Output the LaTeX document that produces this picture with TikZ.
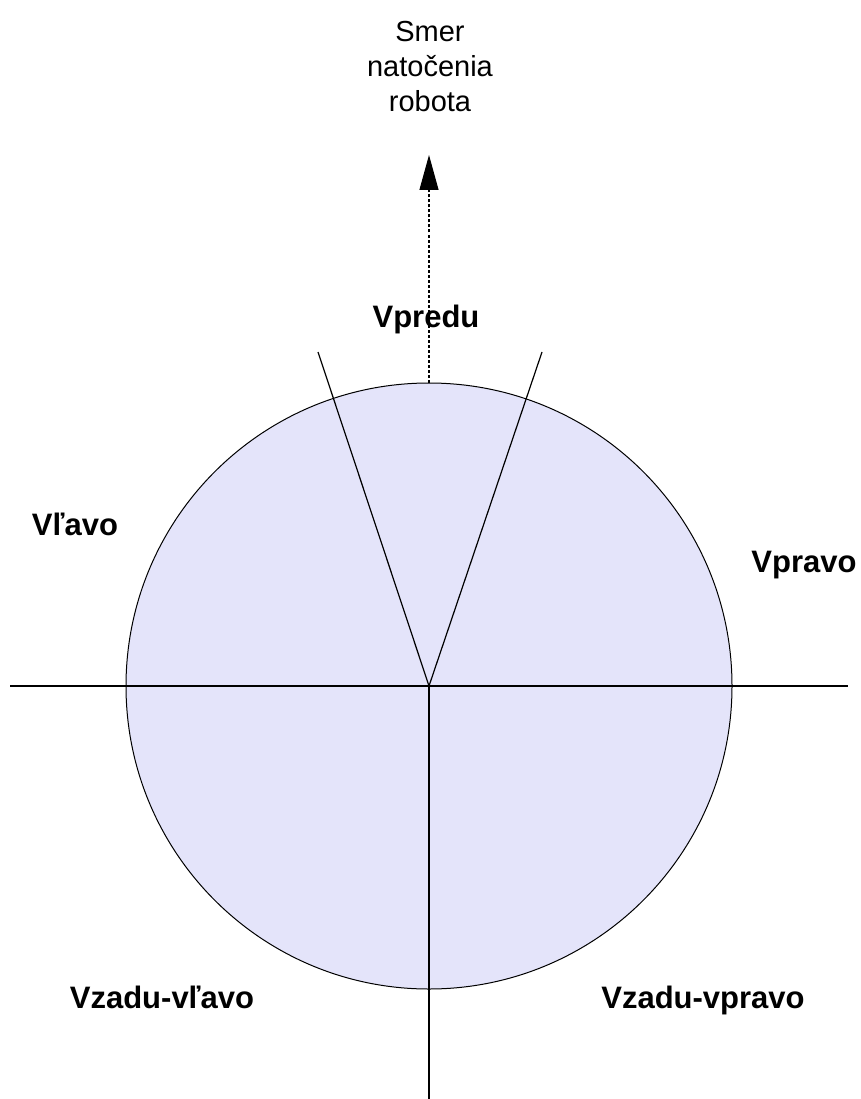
\documentclass[tikz,border=0pt]{standalone}
\usepackage{fontspec}
\setmainfont{Liberation Sans}
\definecolor{robotfill}{RGB}{228,228,250}
\usetikzlibrary{arrows.meta,positioning}

\begin{document}
\begin{tikzpicture}[x=1pt,y=-1pt,
  zone/.style={font=\fontsize{31}{35}\selectfont\bfseries,inner sep=0pt,anchor=base},
  note/.style={font=\fontsize{29}{35}\selectfont,inner sep=0pt,align=center,anchor=north},
  axis/.style={line width=1.2pt},
  heading/.style={line width=1.2pt,dash pattern=on 3pt off 2pt,
    -{Triangle[length=35pt,width=19pt]}}]
  \useasboundingbox (0,0) rectangle (861,1099);
  % robot body
  \node[circle,draw,line width=1pt,fill=robotfill,minimum size=606pt,inner sep=0pt] (robot) at (429,686) {};
  \coordinate (o) at (429,686);
  \coordinate (west) at (10,686);
  \coordinate (east) at (848,686);
  \coordinate (south) at (429,1099);
  \coordinate (fl) at (318,352);
  \coordinate (fr) at (542,352);
  \coordinate (tip) at (429,155);
  % sector borders
  \draw[axis] (west) -- (east);
  \draw[axis] (o) -- (south);
  \draw[axis] (o) -- (fl);
  \draw[axis] (o) -- (fr);
  % heading
  \draw[heading] (robot.north) -- (tip);
  \node[note] (smer) at (430,21) {Smer\\natočenia\\robota};
  % zones
  \node[zone] (front) at (426,327) {Vpredu};
  \node[zone] (left) at (75,535) {Vľavo};
  \node[zone] (right) at (804,572) {Vpravo};
  \node[zone] (backleft) at (162,1008) {Vzadu-vľavo};
  \node[zone] (backright) at (703,1008) {Vzadu-vpravo};
\end{tikzpicture}
\end{document}
